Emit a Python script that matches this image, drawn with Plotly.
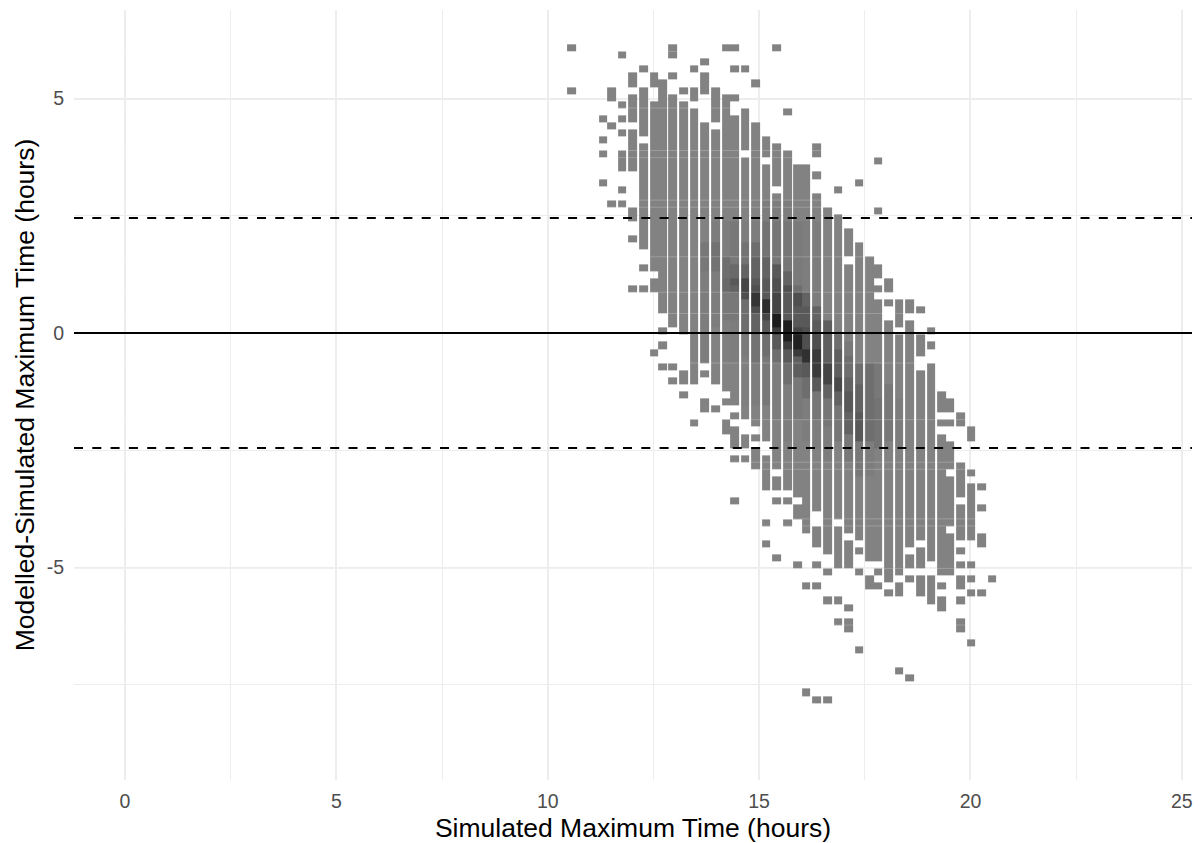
import plotly.graph_objects as go

# Left edge of each occupied time column (hours)
col_left = [10.457, 11.207, 11.41, 11.656, 11.907, 12.16, 12.413, 12.617, 12.853, 13.106,
            13.359, 13.61, 13.863, 14.116, 14.317, 14.566, 14.81, 15.063, 15.314, 15.567,
            15.803, 16.009, 16.26, 16.513, 16.766, 17.01, 17.263, 17.507, 17.713, 17.963,
            18.209, 18.46, 18.713, 18.966, 19.21, 19.416, 19.659, 19.912, 20.163, 20.409]
col_width = 0.205

# Difference bins: bin 0 is the topmost
diff_top = 6.155
diff_step = 0.151
n_diff_bins = 94

# Occupied bins in each column as (first, last) runs
col_runs = [
    [(0,0),(6,6)],
    [(10,10),(13,13),(15,15),(19,19)],
    [(6,7),(11,11),(22,22)],
    [(1,1),(8,8),(10,10),(12,12),(15,17),(20,20),(22,22)],
    [(4,5),(7,10),(12,17),(23,24),(27,27),(34,34)],
    [(3,3),(6,12),(14,28),(31,31),(34,34)],
    [(4,5),(8,31),(33,34),(43,43)],
    [(5,37),(40,40),(42,42),(45,45)],
    [(0,1),(4,4),(7,39),(45,45),(47,47)],
    [(6,6),(8,40),(46,47),(49,49)],
    [(3,3),(6,7),(9,47),(53,53)],
    [(2,2),(4,6),(11,44),(46,46),(50,51)],
    [(6,10),(12,47),(51,51)],
    [(0,0),(7,48),(50,50),(53,54)],
    [(0,0),(3,3),(7,7),(10,50),(52,52),(54,56),(58,58),(64,64)],
    [(3,3),(9,14),(16,52),(55,56),(58,58)],
    [(5,5),(11,53),(55,55),(57,59)],
    [(13,15),(17,55),(58,62),(67,67),(70,70)],
    [(0,0),(14,19),(21,59),(61,62),(64,64),(72,72)],
    [(9,9),(15,62),(64,64),(67,67)],
    [(17,63),(65,66),(73,73)],
    [(17,68),(76,76),(91,91)],
    [(14,15),(18,18),(21,65),(68,70),(73,73),(76,76),(92,92)],
    [(23,71),(74,74),(78,78),(92,92)],
    [(20,20),(24,66),(68,73),(78,78),(81,81)],
    [(26,29),(31,68),(70,73),(79,79),(81,82)],
    [(19,19),(28,69),(71,71),(74,74),(85,85)],
    [(30,72),(75,76)],
    [(16,16),(23,23),(31,32),(34,34),(36,72),(74,74),(76,76)],
    [(33,34),(36,36),(39,75),(77,77)],
    [(36,39),(41,74),(76,77),(88,88)],
    [(36,37),(39,70),(72,73),(75,75),(89,89)],
    [(37,37),(41,43),(46,69),(71,73),(75,77)],
    [(40,40),(42,42),(45,72),(75,78)],
    [(49,51),(53,53),(55,74),(76,76),(78,79)],
    [(50,51),(53,53),(56,59),(61,67),(69,74)],
    [(52,53),(59,63),(65,69),(71,71),(73,73),(75,76),(78,78),(81,82)],
    [(54,55),(60,60),(62,69),(73,73),(75,75),(77,77),(84,84)],
    [(62,62),(65,65),(69,70),(77,77)],
    [(75,75)],
]

# Count level read from the grey shade, as (first, last, level) runs; 0 elsewhere
col_levels = {
    11: [(28,31,1),(32,44,.5)],
    12: [(25,27,.5),(28,31,1.5),(32,39,.5)],
    13: [(25,29,.5),(30,32,2),(33,34,2.5),(35,38,1),(39,44,.3)],
    14: [(25,30,1),(31,32,2.5),(33,33,4),(34,34,3),(35,38,1),(39,44,.5)],
    15: [(25,27,.5),(28,30,1.5),(31,32,3),(33,34,6),(35,35,5),(36,40,2),(41,43,.7),(44,50,.3)],
    16: [(25,27,.5),(28,29,2),(30,32,3),(33,33,4),(34,34,5),(35,36,7.5),(37,37,5),(38,40,3),(41,44,1.5),(45,50,.5)],
    17: [(22,24,.5),(25,29,1.5),(30,32,3),(33,35,4),(36,37,8.5),(38,38,6),(39,40,4),(41,43,2),(44,50,1)],
    18: [(22,24,.5),(25,30,1.2),(31,32,4),(33,34,5),(35,37,6),(38,39,10),(40,40,7),(41,42,4),(43,44,2),(45,52,.5)],
    19: [(22,24,.5),(25,31,1.2),(32,33,3),(34,34,5),(35,38,4),(39,41,10),(42,42,7),(43,44,4),(45,47,2),(48,55,.5)],
    20: [(25,33,.8),(34,34,2),(35,36,5),(37,39,4),(40,40,6),(41,42,9.5),(43,43,7),(44,46,3.5),(47,52,1)],
    21: [(25,34,.5),(35,36,3),(37,39,4),(40,42,5),(43,44,8),(45,46,4),(47,49,2),(50,55,.5)],
    22: [(25,36,.5),(37,38,3),(39,40,4),(41,42,5),(43,46,7),(47,48,4),(49,52,1.2),(53,56,.5)],
    23: [(39,44,3.5),(45,47,6),(48,49,3),(50,53,1.2),(54,58,.5)],
    24: [(41,42,2),(43,46,3.5),(47,48,5.5),(49,50,3),(51,55,1.2)],
    25: [(42,43,1),(44,46,2),(47,48,3),(49,51,4),(52,54,3),(55,58,1)],
    26: [(45,47,2),(48,51,3),(52,55,4),(56,60,1)],
    27: [(45,55,2),(56,60,.5)],
    28: [(45,49,1),(50,56,1.5)],
    29: [(48,55,1)],
    30: [(50,56,.5)],
}
level_min = 0
level_max = 10

x_title = "Simulated Maximum Time (hours)"
y_title = "Modelled-Simulated Maximum Time (hours)"
x_ticks = [0, 5, 10, 15, 20, 25]
y_ticks = [-5, 0, 5]
y_tick_labels = ["-5", "0", "5"]
limit_band = 2.45
seam_bins = [1, 9, 15, 16, 22, 23, 30, 35, 38, 45, 53, 59, 60, 67, 68, 74, 82]

# Build the heatmap grid: a blank strip goes between separated columns
edges = []
z_cols = []
for i, left in enumerate(col_left):
    if not edges or abs(edges[-1] - left) > 1e-9:
        if edges:
            z_cols.append([None] * n_diff_bins)
        edges.append(left)
    right = left + col_width
    if i + 1 < len(col_left) and col_left[i + 1] - right < 0.02:
        right = col_left[i + 1]
    edges.append(right)
    col = [None] * n_diff_bins
    for a, b in col_runs[i]:
        for r in range(a, b + 1):
            col[r] = 0
    for a, b, lv in col_levels.get(i, []):
        for r in range(a, b + 1):
            if col[r] is not None:
                col[r] = lv
    z_cols.append(col)

y_edges = [diff_top - diff_step * r for r in range(n_diff_bins, -1, -1)]
z = [[z_cols[c][r] for c in range(len(z_cols))] for r in range(n_diff_bins - 1, -1, -1)]

fig = go.Figure()
fig.add_trace(go.Heatmap(
    x=edges, y=y_edges, z=z, zmin=level_min, zmax=level_max,
    colorscale=[[0, "#828282"], [1, "#1c1c1c"]],
    showscale=False, hoverongaps=False,
))

for r in seam_bins:
    fig.add_hline(y=diff_top - diff_step * r, line=dict(color="rgba(255,255,255,0.22)", width=1), layer="above")
fig.add_hline(y=0, line=dict(color="black", width=2), layer="above")
for v in (limit_band, -limit_band):
    fig.add_hline(y=v, line=dict(color="black", width=2, dash="9px,9.3px"), layer="above")

grid = "#ededed"
fig.update_layout(
    width=1202, height=843,
    margin=dict(l=74, r=10, t=10, b=63, autoexpand=False),
    paper_bgcolor="white", plot_bgcolor="white",
    font=dict(family="Liberation Sans, Arial, sans-serif"),
    showlegend=False,
    xaxis=dict(
        range=[-1.207, 25.24], tickvals=x_ticks, zeroline=False, showline=False, ticks="", automargin=False,
        showgrid=True, gridcolor=grid, gridwidth=2,
        minor=dict(dtick=2.5, tick0=0, showgrid=True, gridcolor=grid, gridwidth=1, ticks=""),
        tickfont=dict(size=19.5, color="#4d4d4d"), ticklabelstandoff=7,
        title=dict(text=x_title, font=dict(size=26.5, color="black"), standoff=8),
    ),
    yaxis=dict(
        range=[-9.53, 6.887], tickvals=y_ticks, ticktext=y_tick_labels, zeroline=False, showline=False, ticks="", automargin=False,
        showgrid=True, gridcolor=grid, gridwidth=2,
        minor=dict(dtick=2.5, tick0=0, showgrid=True, gridcolor=grid, gridwidth=1, ticks=""),
        tickfont=dict(size=19.5, color="#4d4d4d"), ticklabelstandoff=9,
        title=dict(text=y_title, font=dict(size=26.5, color="black"), standoff=4),
    ),
)

fig.write_html("out.html", config=dict(displayModeBar=False), post_script="document.body.style.margin='0';")
